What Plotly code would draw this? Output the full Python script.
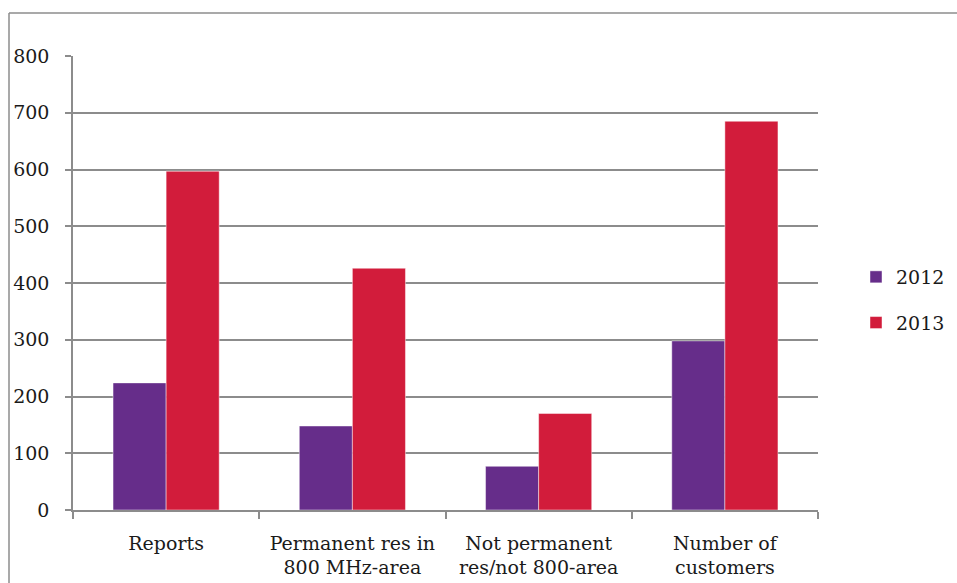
import plotly.graph_objects as go

categories = [
    "Reports",
    "Permanent res in<br>800 MHz-area",
    "Not permanent<br>res/not 800-area",
    "Number of<br>customers",
]
values_2012 = [224, 148, 77, 298]
values_2013 = [597, 426, 170, 685]
series_names = ["2012", "2013"]
y_ticks = [0, 100, 200, 300, 400, 500, 600, 700, 800]

W, H = 957, 583
L, R, T, B = 73, 139, 56, 73
plot_w, plot_h = W - L - R, H - T - B

FONT = "DejaVu Serif"
FS = 19
GRID = "#8c8c8c"

fig = go.Figure()
fig.add_trace(go.Bar(
    name=series_names[0], x=categories, y=values_2012,
    marker=dict(color="#662d8a", line=dict(color="rgba(255,255,255,0.45)", width=1)),
    legendgroup="a",
))
fig.add_trace(go.Bar(
    name=series_names[1], x=categories, y=values_2013,
    marker=dict(color="#d21c3b", line=dict(color="rgba(255,255,255,0.45)", width=1)),
    legendgroup="b",
))

# outer frame around the chart (top and left edges visible)
fx = (9 - L) / plot_w
fy = (H - B - 13) / plot_h
fig.add_shape(type="line", xref="paper", yref="paper", x0=fx, x1=(W + 5 - L) / plot_w,
              y0=fy, y1=fy, line=dict(color="#8c8c8c", width=1.5))
fig.add_shape(type="line", xref="paper", yref="paper", x0=fx, x1=fx,
              y0=fy, y1=-(B + 5) / plot_h, line=dict(color="#8c8c8c", width=1.5))

fig.update_layout(
    width=W, height=H,
    margin=dict(l=L, r=R, t=T, b=B, pad=0, autoexpand=False),
    paper_bgcolor="white", plot_bgcolor="white",
    font=dict(family=FONT, size=FS, color="#1a1a1a"),
    barmode="group", bargap=0.43, bargroupgap=0,
    showlegend=True,
    legend=dict(x=(856 - L) / plot_w, xanchor="left", y=(H - B - 300) / plot_h, yanchor="middle",
                font=dict(family=FONT, size=FS), tracegroupgap=18,
                bgcolor="rgba(0,0,0,0)"),
    xaxis=dict(
        showgrid=False, showline=True, linecolor=GRID, linewidth=1.5,
        ticks="outside", tickson="boundaries", ticklen=7, tickcolor=GRID, tickwidth=1.5,
        ticklabelstandoff=15, automargin=False, tickangle=0,
        tickfont=dict(family=FONT, size=FS, color="#1a1a1a"),
        fixedrange=True,
    ),
    yaxis=dict(
        range=[0, 800], tickvals=y_ticks, ticktext=[str(v) for v in y_ticks],
        showgrid=True, gridcolor=GRID, gridwidth=1.5,
        showline=True, linecolor=GRID, linewidth=1.5,
        ticks="outside", ticklen=6, tickcolor=GRID, tickwidth=1.5,
        ticklabelstandoff=12, automargin=False,
        tickfont=dict(family=FONT, size=FS, color="#1a1a1a"),
        zeroline=False, fixedrange=True,
    ),
)

fig.write_html("out.html")
